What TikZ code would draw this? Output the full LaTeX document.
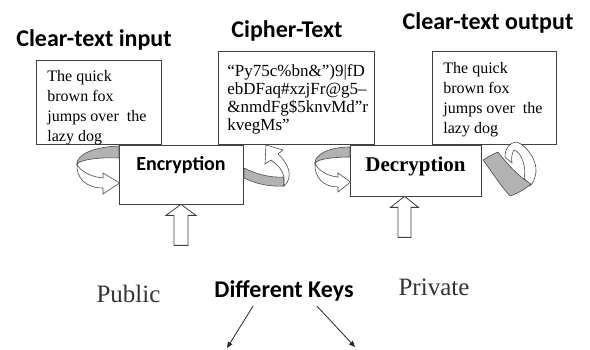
\documentclass[tikz,border=0pt]{standalone}
\usepackage{fontspec}
\setmainfont{Liberation Serif}
\newfontfamily\headfont{Carlito}
\usetikzlibrary{arrows.meta}

\tikzset{every picture/.style={line width=0.75pt}}

\begin{document}
\begin{tikzpicture}[x=1pt,y=1pt,yscale=-1,
	frame/.style={draw=black!75, fill=white, inner sep=0pt},
	plain/.style={anchor=north west, inner sep=0pt, align=left},
	heading/.style={anchor=base, inner sep=0pt, font=\headfont\bfseries\fontsize{24}{28}\selectfont},
	keyname/.style={anchor=base, inner sep=0pt, font=\fontsize{25}{30}\selectfont, text=black!80},
	hollow/.style={draw=black!75, fill=white, line width=0.8pt},
	back/.style={draw=black!70, fill=black!30, line width=0.6pt},
	front/.style={draw=black!70, fill=white, line width=0.6pt},
	pointer/.style={draw=black!85, line width=0.8pt, -{Triangle[length=6pt,width=5pt]}}]

\useasboundingbox (0,0) rectangle (590,350);

% Draw boxes
\node[frame, minimum width=125, minimum height=84] (inbox) at (98.5,102) {};
\node[frame, minimum width=156, minimum height=93] (cipherbox) at (296,97.5) {};
\node[frame, minimum width=124, minimum height=93] (outbox) at (494,97.5) {};
\node[frame, minimum width=124, text height=26, text depth=33, font=\headfont\bfseries\fontsize{20}{24}\selectfont] (enc) at (181,174.5) {Encryption};
\node[frame, minimum width=131, text height=27, text depth=24, font=\bfseries\fontsize{21}{25}\selectfont] (dec) at (415.5,170.5) {Decryption};

% Texts in the boxes
\node[plain, font=\fontsize{16}{20}\selectfont] (intext) at (47,70) {The quick\\brown fox\\jumps over\ \ the\\lazy dog};
\node[plain, font=\fontsize{17}{18}\selectfont] (ciphertext) at (227,64) {“Py75c\%bn\&”)9|fD\\ebDFaq\#xzjFr@g5–\\\&nmdFg\$5knvMd”r\\kvegMs”};
\node[plain, font=\fontsize{16}{20}\selectfont] (outtext) at (443,62) {The quick\\brown fox\\jumps over\ \ the\\lazy dog};

% Headings
\node[heading] (inhead) at (94,46.5) {Clear-text input};
\node[heading] (cipherhead) at (287,37.5) {Cipher-Text};
\node[heading] (outhead) at (488,29.5) {Clear-text output};

% Curved ribbon arrows
\draw[back] (119,146) .. controls (92,147) and (77,155) .. (77,164) .. controls (80,160) and (98,157) .. (119,158) -- cycle;
\draw[front] (77,164) .. controls (79,170) and (90,177) .. (103,178) -- (103,173) -- (119.5,183) -- (103,194) -- (103,188) .. controls (86,188) and (76,178) .. (77,164) -- cycle;

\draw[back] (244,168) .. controls (256,174) and (270,178) .. (284,177) -- (284,186) .. controls (268,187) and (254,183) .. (244,178) -- cycle;
\draw[front] (284,186) .. controls (293,178) and (290,165) .. (278,154) -- (283,150) -- (266,145) -- (265,164) -- (271,160) .. controls (279,166) and (283,171) .. (284,177) -- cycle;

\draw[back] (350,147) .. controls (330,147) and (315,154) .. (315,163) .. controls (318,159) and (334,157) .. (350,157) -- cycle;
\draw[front] (315,163) .. controls (317,169) and (326,176) .. (338,177) -- (338,173) -- (350.5,182) -- (338,192) -- (338,187) .. controls (323,187) and (314,177) .. (315,163) -- cycle;

\draw[front] (505,157) .. controls (505,148) and (510,142) .. (517,142) .. controls (527,146) and (537,160) .. (536,172) .. controls (535,180) and (532,184) .. (530,186) -- (524,178) .. controls (527,170) and (522,152) .. (514,150) .. controls (512,153) and (511,158) .. (512,163) -- cycle;
\draw[back] (483,160) .. controls (488,157) and (493,154) .. (498,152) .. controls (508,165) and (518,176) .. (531,184) .. controls (524,190) and (516,194) .. (510,196) .. controls (500,185) and (492,172) .. (483,160) -- cycle;

% Key arrows
\draw[hollow] (enc.south) -- ++(15,11) -- ++(-8,0) -- ++(0,30) -- ++(-14,0) -- ++(0,-30) -- ++(-8,0) -- cycle;
\draw[hollow] (dec.south) ++(-11,0) -- ++(14,11) -- ++(-7.5,0) -- ++(0,30) -- ++(-13,0) -- ++(0,-30) -- ++(-7.5,0) -- cycle;

% Keys
\node[keyname] (public) at (128.5,303) {Public};
\node[keyname] (private) at (434,295) {Private};
\node[heading] (keys) at (284,298) {Different Keys};

\coordinate (pubend) at (227,348);
\coordinate (privend) at (355,347);
\draw[pointer] (keys.south) ++(-31,4) -- (pubend);
\draw[pointer] (keys.south) ++(33,4) -- (privend);
\end{tikzpicture}
\end{document}
